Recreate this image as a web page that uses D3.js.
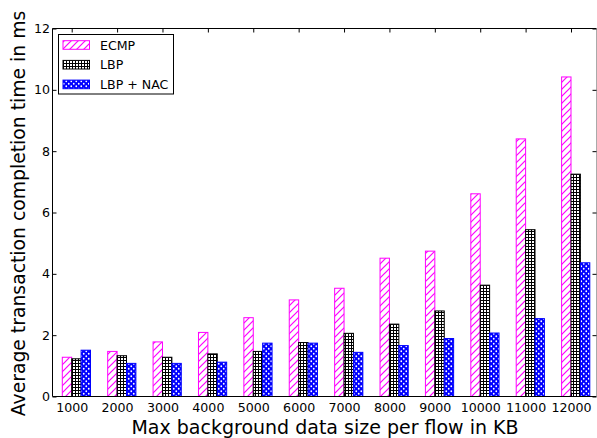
<!DOCTYPE html>
<html>
<head>
<meta charset="utf-8">
<script src="https://cdn.jsdelivr.net/npm/d3@7"></script>
<style>
  body { margin: 0; background: #fff; }
  text { font-family: "DejaVu Sans", sans-serif; fill: #000; }
</style>
</head>
<body>
<svg id="chart" width="597" height="438"></svg>
<script>
var categories = ["1000","2000","3000","4000","5000","6000","7000","8000","9000","10000","11000","12000"];
var ecmp   = [1.28, 1.47, 1.78, 2.09, 2.57, 3.15, 3.53, 4.51, 4.74, 6.61, 8.40, 10.42];
var lbp    = [1.23, 1.33, 1.28, 1.39, 1.47, 1.76, 2.06, 2.36, 2.79, 3.63, 5.44, 7.25];
var lbpNac = [1.51, 1.08, 1.08, 1.12, 1.74, 1.74, 1.44, 1.66, 1.89, 2.07, 2.54, 4.36];
var seriesNames = ["ECMP", "LBP", "LBP + NAC"];
var yTicks = [0, 2, 4, 6, 8, 10, 12];

var svg = d3.select("#chart");
var plotL = 52.5, plotR = 596.5, plotT = 28.5, plotB = 396.5;

var x = d3.scalePoint().domain(categories).range([71.7, 571]);
var y = d3.scaleLinear().domain([0, 12]).range([plotB, plotT]);
var barW = 9.4;

// patterns
var defs = svg.append("defs");
var p1 = defs.append("pattern").attr("id", "hatchE")
  .attr("patternUnits", "userSpaceOnUse").attr("width", 7).attr("height", 7);
p1.append("rect").attr("width", 7).attr("height", 7).attr("fill", "#fff");
p1.append("path").attr("d", "M-1,8 L8,-1 M-4,4 L4,-4 M3,11 L11,3")
  .attr("stroke", "#ff00ff").attr("stroke-width", 1.2);

var p2 = defs.append("pattern").attr("id", "hatchL")
  .attr("patternUnits", "userSpaceOnUse").attr("width", 3).attr("height", 3);
p2.append("rect").attr("width", 3).attr("height", 3).attr("fill", "#fff");
p2.append("path").attr("d", "M0,0.5 H3 M0.5,0 V3")
  .attr("stroke", "#000").attr("stroke-width", 1);

var p3 = defs.append("pattern").attr("id", "hatchN")
  .attr("patternUnits", "userSpaceOnUse").attr("width", 5).attr("height", 5);
p3.append("rect").attr("width", 5).attr("height", 5).attr("fill", "#0000ff");
p3.append("circle").attr("cx", 1.25).attr("cy", 1.25).attr("r", 0.9).attr("fill", "#fff");
p3.append("circle").attr("cx", 3.75).attr("cy", 3.75).attr("r", 0.9).attr("fill", "#fff");

var fills = ["url(#hatchE)", "url(#hatchL)", "url(#hatchN)"];
var strokes = ["#ff00ff", "#000", "#0000ff"];
var series = [ecmp, lbp, lbpNac];

series.forEach(function(vals, s) {
  svg.append("g").selectAll("rect")
    .data(vals)
    .enter().append("rect")
    .attr("x", function(d, i) { return x(categories[i]) + (s - 1) * barW; })
    .attr("y", function(d) { return y(d); })
    .attr("width", barW)
    .attr("height", function(d) { return plotB - y(d); })
    .attr("fill", fills[s])
    .attr("stroke", strokes[s])
    .attr("stroke-width", 1);
});

// frame
svg.append("line").attr("x1", plotL).attr("x2", plotR).attr("y1", plotT).attr("y2", plotT).attr("stroke", "#000");
svg.append("line").attr("x1", plotL).attr("x2", plotR).attr("y1", plotB).attr("y2", plotB).attr("stroke", "#000");
svg.append("line").attr("x1", plotL).attr("x2", plotL).attr("y1", plotT).attr("y2", plotB).attr("stroke", "#000");
svg.append("line").attr("x1", plotR).attr("x2", plotR).attr("y1", plotT).attr("y2", plotB).attr("stroke", "#aaa");

// x axis (ticks inside)
var xb = svg.append("g").attr("transform", "translate(0," + plotB + ")")
  .call(d3.axisBottom(x).tickSizeInner(-4).tickSizeOuter(0).tickPadding(6.5));
xb.select(".domain").remove();
xb.selectAll("text").attr("font-size", 12.6).attr("font-family", "DejaVu Sans");
var xt = svg.append("g").attr("transform", "translate(0," + plotT + ")")
  .call(d3.axisTop(x).tickSizeInner(-4).tickSizeOuter(0).tickFormat(""));
xt.select(".domain").remove();

// y axis
var yl = svg.append("g").attr("transform", "translate(" + plotL + ",0)")
  .call(d3.axisLeft(y).tickValues(yTicks).tickSizeInner(-4).tickSizeOuter(0).tickPadding(2.5));
yl.select(".domain").remove();
yl.selectAll("text").attr("font-size", 12.6).attr("font-family", "DejaVu Sans");
var yr = svg.append("g").attr("transform", "translate(" + plotR + ",0)")
  .call(d3.axisRight(y).tickValues(yTicks).tickSizeInner(-4).tickSizeOuter(0).tickFormat(""));
yr.select(".domain").remove();

// axis labels
svg.append("text").attr("x", 325).attr("y", 433.5)
  .attr("text-anchor", "middle").attr("font-size", 19)
  .text("Max background data size per flow in KB");
svg.append("text").attr("transform", "translate(24.5,213.5) rotate(-90)")
  .attr("text-anchor", "middle").attr("font-size", 18.8)
  .text("Average transaction completion time in ms");

// legend
var lg = svg.append("g");
lg.append("rect").attr("x", 58.5).attr("y", 34.5).attr("width", 115).attr("height", 59.5)
  .attr("fill", "#fff").attr("stroke", "#000").attr("stroke-width", 1);
seriesNames.forEach(function(name, i) {
  var cy = 45 + i * 19.7;
  lg.append("rect").attr("x", 63).attr("y", cy - 4.3).attr("width", 26.5).attr("height", 8.6)
    .attr("fill", fills[i]).attr("stroke", strokes[i]);
  lg.append("text").attr("x", 100).attr("y", cy + 4.5).attr("font-size", 12.6).text(name);
});
</script>
</body>
</html>
